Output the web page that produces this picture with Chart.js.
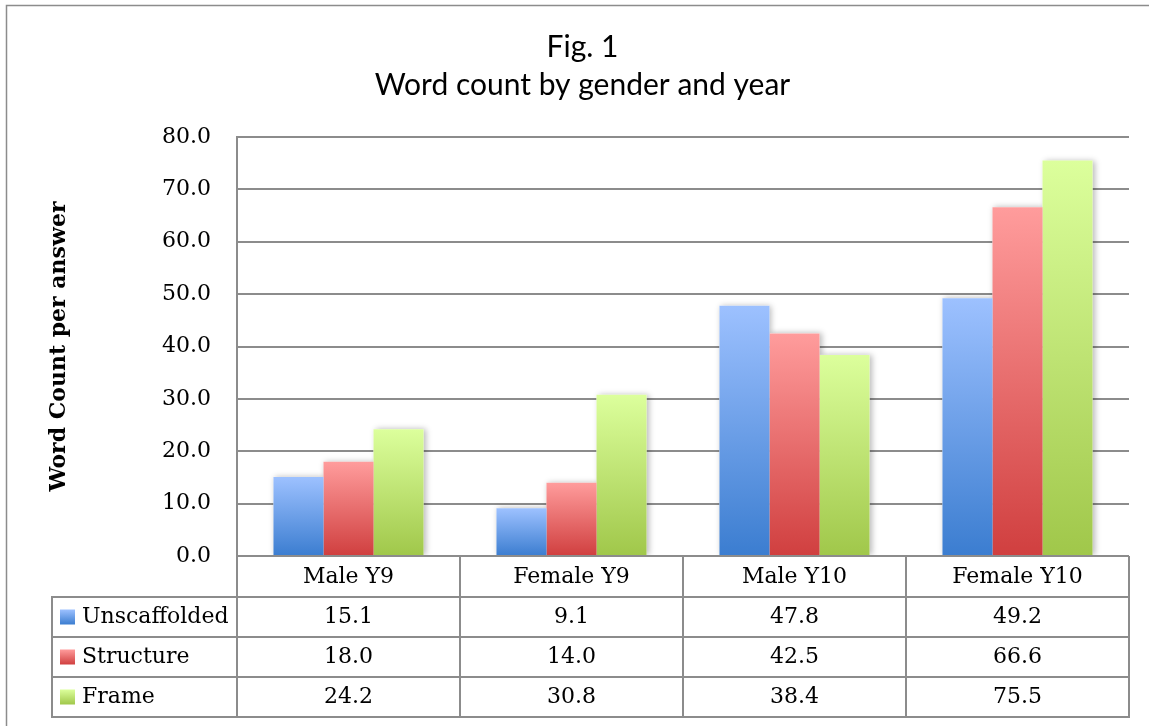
<!DOCTYPE html>
<html>
<head>
<meta charset="utf-8">
<title>Word count by gender and year</title>
<script src="https://cdn.jsdelivr.net/npm/chart.js@4.4.1/dist/chart.umd.min.js"></script>
<style>
  html, body { margin: 0; padding: 0; background: #ffffff; }
  #wrap { width: 1149px; height: 726px; position: relative; }
</style>
</head>
<body>
<div id="wrap"><canvas id="c" width="1149" height="726"></canvas></div>
<script>
// ---- data ----
const categories = ['Male Y9', 'Female Y9', 'Male Y10', 'Female Y10'];
const seriesNames = ['Unscaffolded', 'Structure', 'Frame'];
const unscaffolded = [15.1, 9.1, 47.8, 49.2];
const structure = [18.0, 14.0, 42.5, 66.6];
const frame = [24.2, 30.8, 38.4, 75.5];
const yTicks = [0, 10, 20, 30, 40, 50, 60, 70, 80];
const titleLines = ['Fig. 1', 'Word count by gender and year'];
const yTitle = 'Word Count per answer';

// ---- styling ----
const palette = [
  { top: '#9dc1ff', bottom: '#3b7dd0' },
  { top: '#ff9c9c', bottom: '#d03f3f' },
  { top: '#dcff9c', bottom: '#a0c74a' }
];
const lineGrey = '#8c8c8c';
const serif = "'DejaVu Serif', 'Liberation Serif', serif";
const seriesValues = [unscaffolded, structure, frame];

function verticalGradient(ctx, top, bottom, i) {
  const g = ctx.createLinearGradient(0, top, 0, bottom);
  g.addColorStop(0, palette[i].top);
  g.addColorStop(1, palette[i].bottom);
  return g;
}

// each bar gets its own light-to-dark gradient, top to base
function barFill(i) {
  return (c) => {
    const chart = c.chart;
    if (!chart.chartArea || c.type !== 'data') return palette[i].bottom;
    const y = chart.scales.y;
    const top = y.getPixelForValue(c.raw);
    const base = y.getPixelForValue(0);
    if (!isFinite(top) || top === base) return palette[i].bottom;
    return verticalGradient(chart.ctx, top, base, i);
  };
}

// outer frame line on the left and top
const framePlugin = {
  id: 'outerFrame',
  beforeDraw(chart) {
    const ctx = chart.ctx;
    ctx.save();
    ctx.strokeStyle = lineGrey;
    ctx.lineWidth = 1.5;
    ctx.beginPath();
    ctx.moveTo(6.5, chart.height);
    ctx.lineTo(6.5, 5.5);
    ctx.lineTo(chart.width, 5.5);
    ctx.stroke();
    ctx.restore();
  }
};

// soft drop shadow behind the bars
const shadowPlugin = {
  id: 'barShadow',
  beforeDatasetsDraw(chart) {
    const ctx = chart.ctx;
    const a = chart.chartArea;
    ctx.save();
    ctx.beginPath();
    ctx.rect(a.left, a.top - 10, a.right - a.left, a.bottom - a.top + 10);
    ctx.clip();
    ctx.shadowColor = 'rgba(0,0,0,0.28)';
    ctx.shadowBlur = 6;
    ctx.shadowOffsetX = 2;
    ctx.shadowOffsetY = 0;
    ctx.fillStyle = '#ffffff';
    chart.getSortedVisibleDatasetMetas().forEach(meta => {
      meta.data.forEach(el => {
        const p = el.getProps(['x', 'y', 'base', 'width'], true);
        ctx.fillRect(p.x - p.width / 2, p.y, p.width, p.base - p.y);
      });
    });
    ctx.restore();
  }
};

// data table under the plot: category header row plus one row per series
const tablePlugin = {
  id: 'dataTable',
  afterDraw(chart) {
    const ctx = chart.ctx;
    const a = chart.chartArea;
    const x = chart.scales.x;
    const colW = (a.right - a.left) / categories.length;
    const headerH = 41;
    const rowH = 40;
    const legendLeft = 52;
    const rowsTop = a.bottom + headerH;
    const tableBottom = rowsTop + rowH * seriesNames.length;

    ctx.save();
    ctx.strokeStyle = lineGrey;
    ctx.lineWidth = 2;
    ctx.beginPath();
    // column dividers
    for (let k = 0; k <= categories.length; k++) {
      const cx = Math.round(a.left + k * colW);
      ctx.moveTo(cx, a.bottom);
      ctx.lineTo(cx, tableBottom);
    }
    // legend column left edge
    ctx.moveTo(legendLeft, rowsTop);
    ctx.lineTo(legendLeft, tableBottom);
    // horizontal rules
    ctx.moveTo(a.left, a.bottom);
    ctx.lineTo(a.right, a.bottom);
    for (let r = 0; r <= seriesNames.length; r++) {
      const ry = Math.round(rowsTop + r * rowH);
      ctx.moveTo(legendLeft - 1, ry);
      ctx.lineTo(a.right + 1, ry);
    }
    ctx.stroke();

    ctx.fillStyle = '#000000';
    ctx.font = '22px ' + serif;
    ctx.textBaseline = 'middle';
    ctx.textAlign = 'center';
    categories.forEach((cat, i) => {
      ctx.fillText(cat, x.getPixelForValue(i), a.bottom + headerH / 2 + 1);
    });

    seriesNames.forEach((name, s) => {
      const cy = rowsTop + rowH * s + rowH / 2;
      // legend key
      const sw = 15;
      ctx.fillStyle = verticalGradient(ctx, cy - sw / 2, cy + sw / 2, s);
      ctx.fillRect(legendLeft + 8, cy - sw / 2, sw, sw);
      ctx.fillStyle = '#000000';
      ctx.textAlign = 'left';
      ctx.fillText(name, legendLeft + 30, cy);
      ctx.textAlign = 'center';
      seriesValues[s].forEach((v, i) => {
        ctx.fillText(v.toFixed(1), x.getPixelForValue(i), cy);
      });
    });
    ctx.restore();
  }
};

const datasets = seriesNames.map((name, i) => ({
  label: name,
  data: seriesValues[i],
  backgroundColor: barFill(i),
  borderWidth: 0,
  categoryPercentage: 0.673,
  barPercentage: 1.0
}));

new Chart(document.getElementById('c'), {
  type: 'bar',
  data: { labels: categories, datasets },
  options: {
    responsive: false,
    animation: false,
    devicePixelRatio: 1,
    layout: { padding: { left: 36, right: 20, top: 0, bottom: 170 } },
    plugins: {
      legend: { display: false },
      tooltip: { enabled: false },
      title: {
        display: true,
        text: titleLines,
        color: '#000000',
        font: { family: "Lato, 'Open Sans', sans-serif", size: 30, weight: 'normal', lineHeight: 1.267 },
        padding: { top: 28, bottom: 33 }
      }
    },
    scales: {
      x: { display: false },
      y: {
        min: 0,
        max: 80,
        afterBuildTicks: (s) => { s.ticks = yTicks.map(v => ({ value: v })); },
        afterFit: (s) => { s.width = 201; },
        ticks: {
          callback: (v) => Number(v).toFixed(1),
          color: '#000000',
          font: { family: serif, size: 22 },
          padding: 26
        },
        grid: { color: lineGrey, lineWidth: 2, drawTicks: false },
        border: { display: true, color: lineGrey, width: 2 },
        title: {
          display: true,
          text: yTitle,
          color: '#000000',
          font: { family: serif, size: 22, weight: 'bold' },
          padding: { top: 10, bottom: 0 }
        }
      }
    }
  },
  plugins: [framePlugin, shadowPlugin, tablePlugin]
});
</script>
</body>
</html>
